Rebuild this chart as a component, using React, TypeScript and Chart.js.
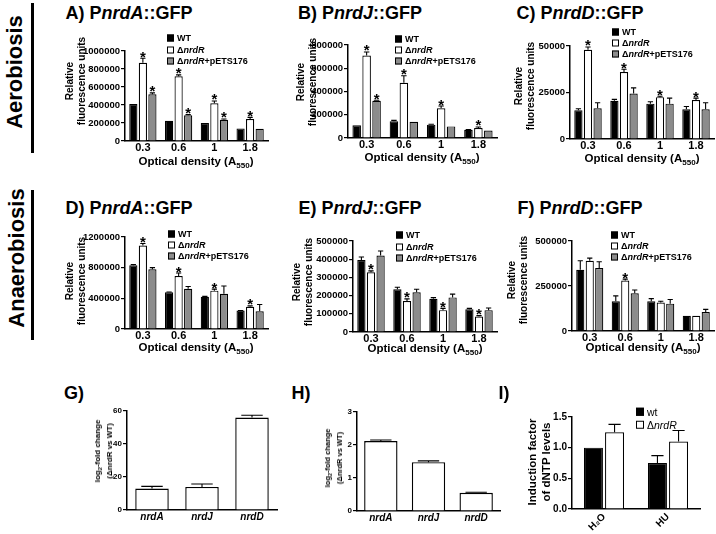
import React, { useEffect, useRef } from 'react';
import { Chart, registerables } from 'chart.js';

Chart.register(...registerables);

const FONT = "'Liberation Sans', Arial, Helvetica, sans-serif";

// ---------------- data ----------------
const odLabels = ['0.3', '0.6', '1', '1.8'];
const strainNames = ['WT', 'ΔnrdR', 'ΔnrdR+pETS176'];
const geneLabels = ['nrdA', 'nrdJ', 'nrdD'];
const treatLabels = ['H₂O', 'HU'];
const dntpNames = ['wt', 'ΔnrdR'];
const panelTitles = ['A) PnrdA::GFP', 'B) PnrdJ::GFP', 'C) PnrdD::GFP', 'D) PnrdA::GFP', 'E) PnrdJ::GFP', 'F) PnrdD::GFP', 'G)', 'H)', 'I)'];

// A) PnrdA::GFP aerobiosis
const aWT = [410000, 225000, 200000, 140000];
const aWTTop = [410000, 225000, 200000, 140000];
const aDel = [870000, 720000, 420000, 245000];
const aDelTop = [920000, 735000, 445000, 262000];
const aComp = [520000, 285000, 235000, 135000];
const aCompTop = [535000, 295000, 245000, 135000];
const aDelStar = [1, 1, 1, 1];
const aCompStar = [1, 1, 1, 0];
const aTicks = [0, 200000, 400000, 600000, 800000, 1000000];

// B) PnrdJ::GFP aerobiosis
const bWT = [110000, 145000, 115000, 70000];
const bWTTop = [110000, 152000, 118000, 72000];
const bDel = [710000, 475000, 255000, 85000];
const bDelTop = [740000, 535000, 275000, 95000];
const bComp = [320000, 140000, 100000, 65000];
const bCompTop = [325000, 140000, 100000, 65000];
const bDelStar = [1, 1, 1, 1];
const bCompStar = [1, 0, 0, 0];
const bTicks = [0, 200000, 400000, 600000, 800000];

// C) PnrdD::GFP aerobiosis
const cWT = [15500, 20500, 19000, 16000];
const cWTTop = [16300, 21300, 20000, 17500];
const cDel = [48000, 36000, 22500, 21000];
const cDelTop = [49500, 37500, 23000, 22000];
const cComp = [16500, 24500, 19000, 16000];
const cCompTop = [19500, 27500, 22000, 19500];
const cDelStar = [1, 1, 1, 1];
const cCompStar = [0, 0, 0, 0];
const cTicks = [0, 25000, 50000];

// D) PnrdA::GFP anaerobiosis
const dWT = [830000, 480000, 420000, 240000];
const dWTTop = [842000, 482000, 426000, 242000];
const dDel = [1090000, 690000, 500000, 290000];
const dDelTop = [1115000, 730000, 520000, 302000];
const dComp = [780000, 525000, 460000, 230000];
const dCompTop = [800000, 555000, 560000, 320000];
const dDelStar = [1, 1, 1, 1];
const dCompStar = [0, 0, 0, 0];
const dTicks = [0, 400000, 800000, 1200000];

// E) PnrdJ::GFP anaerobiosis
const eWT = [395000, 235000, 183000, 125000];
const eWTTop = [412000, 246000, 189000, 130000];
const eDel = [328000, 170000, 120000, 85000];
const eDelTop = [336000, 182000, 130000, 90000];
const eComp = [420000, 218000, 190000, 120000];
const eCompTop = [445000, 235000, 208000, 132000];
const eDelStar = [1, 1, 1, 1];
const eCompStar = [0, 0, 0, 0];
const eTicks = [0, 100000, 200000, 300000, 400000, 500000];

// F) PnrdD::GFP anaerobiosis
const fWT = [340000, 165000, 165000, 85000];
const fWTTop = [390000, 195000, 180000, 85000];
const fDel = [390000, 280000, 158000, 85000];
const fDelTop = [405000, 288000, 165000, 85000];
const fComp = [350000, 210000, 152000, 105000];
const fCompTop = [385000, 228000, 175000, 120000];
const fDelStar = [0, 1, 0, 0];
const fCompStar = [0, 0, 0, 0];
const fTicks = [0, 250000, 500000];

// G) log2 fold change (nrdA, nrdJ, nrdD)
const gVals = [13, 14, 56];
const gTop = [14.3, 15.8, 57.4];
const gTicks = [0, 20, 40, 60];

// H)
const hVals = [2.12, 1.48, 0.55];
const hTop = [2.15, 1.52, 0.57];
const hTicks = [0, 1, 2, 3];

// I) dNTP induction
const iWT = [1.0, 0.75];
const iWTTop = [1.0, 0.87];
const iDel = [1.25, 1.1];
const iDelTop = [1.38, 1.28];
const iTicks = [0, 0.5, 1.0, 1.5];

// ---------------- styles ----------------
const BLACK = '#000000';
const WHITE = '#ffffff';
const GRAY = '#8c8c8c';

function rich(text: string) {
  const parts = text.split(/(nrd[A-Z])/);
  return parts.map((p, i) =>
    /^nrd[A-Z]$/.test(p) ? <i key={i}>{p}</i> : <React.Fragment key={i}>{p}</React.Fragment>
  );
}

const errorBarPlugin = {
  id: 'errbars',
  afterDatasetsDraw(chart: any) {
    const ctx = chart.ctx;
    const ys = chart.scales.y;
    chart.data.datasets.forEach((ds: any, i: number) => {
      const meta = chart.getDatasetMeta(i);
      meta.data.forEach((bar: any, j: number) => {
        const x = bar.x;
        const yb = bar.y;
        const w = bar.width;
        let topPx = yb;
        const tv = ds.errTop ? ds.errTop[j] : null;
        if (tv != null && tv > ds.data[j]) {
          topPx = ys.getPixelForValue(tv);
          ctx.save();
          ctx.strokeStyle = '#000';
          ctx.lineWidth = 1.1;
          ctx.beginPath();
          ctx.moveTo(x, yb);
          ctx.lineTo(x, topPx);
          ctx.moveTo(x - w * 0.32, topPx);
          ctx.lineTo(x + w * 0.32, topPx);
          ctx.stroke();
          ctx.restore();
        }
        if (ds.stars && ds.stars[j]) {
          ctx.save();
          ctx.fillStyle = '#000';
          ctx.font = `bold 15px ${FONT}`;
          ctx.textAlign = 'center';
          ctx.textBaseline = 'alphabetic';
          ctx.fillText('*', x, topPx + 3.5);
          ctx.restore();
        }
      });
    });
  },
};

type DS = { data: number[]; top: number[]; stars?: number[]; color: string };
type PanelCfg = {
  L: number; R: number; T: number; B: number;
  yw: number; xh: number;
  labels: string[];
  yTicks: number[];
  yDec?: number;
  yTickSize: number;
  xTickSize: number;
  xItalic?: boolean;
  xRot?: number;
  xPad?: number;
  catPct: number;
  barPct: number;
  bw: number;
  datasets: DS[];
};

function BarPanel({ cfg }: { cfg: PanelCfg }) {
  const ref = useRef<HTMLCanvasElement | null>(null);
  const padT = 10, padR = 3, padB = 2;
  const w = cfg.R - cfg.L + cfg.yw + padR;
  const h = cfg.B - cfg.T + padT + cfg.xh + padB;
  useEffect(() => {
    const c = ref.current;
    if (!c) return;
    const yMax = cfg.yTicks[cfg.yTicks.length - 1];
    const chart = new Chart(c, {
      type: 'bar',
      data: {
        labels: cfg.labels,
        datasets: cfg.datasets.map((d) => ({
          data: d.data,
          errTop: d.top,
          stars: d.stars,
          backgroundColor: d.color,
          borderColor: '#000',
          borderWidth: cfg.bw,
          categoryPercentage: cfg.catPct,
          barPercentage: cfg.barPct,
        })) as any,
      },
      options: {
        responsive: false,
        animation: false,
        devicePixelRatio: 1,
        layout: { padding: { left: 0, top: padT, right: padR, bottom: padB } },
        plugins: { legend: { display: false }, tooltip: { enabled: false }, title: { display: false } },
        scales: {
          x: {
            type: 'category',
            grid: { display: false, drawTicks: false, tickLength: 0 },
            border: { display: true, color: '#000', width: 1.5 },
            ticks: {
              color: '#000',
              font: { family: FONT, size: cfg.xTickSize, weight: 'bold', style: cfg.xItalic ? 'italic' : 'normal' },
              padding: cfg.xPad ?? 0,
              autoSkip: false,
              maxRotation: cfg.xRot || 0,
              minRotation: cfg.xRot || 0,
            },
            afterFit: (s: any) => { s.height = cfg.xh; },
          },
          y: {
            type: 'linear',
            min: 0,
            max: yMax,
            grid: { display: true, drawOnChartArea: false, drawTicks: true, tickLength: 4, color: '#000', tickColor: '#000', tickWidth: 1.2, lineWidth: 1.2 },
            border: { display: true, color: '#000', width: 1.5 },
            ticks: {
              color: '#000',
              font: { family: FONT, size: cfg.yTickSize, weight: 'bold' },
              padding: 1,
              callback: (v: any) => (cfg.yDec ? Number(v).toFixed(cfg.yDec) : String(v)),
            },
            afterBuildTicks: (s: any) => { s.ticks = cfg.yTicks.map((v) => ({ value: v })); },
            afterFit: (s: any) => { s.width = cfg.yw; },
          },
        },
      } as any,
      plugins: [errorBarPlugin],
    });
    return () => chart.destroy();
  }, []);
  return (
    <canvas
      ref={ref}
      width={w}
      height={h}
      style={{ position: 'absolute', left: cfg.L - cfg.yw, top: cfg.T - padT, width: w, height: h }}
    />
  );
}

const Txt = ({ x, y, size, bold, rot, lh, children }: any) => (
  <div
    style={{
      position: 'absolute', left: x, top: y,
      transform: `translate(-50%, -50%)${rot ? ` rotate(${rot}deg)` : ''}`,
      fontFamily: FONT, fontSize: size, fontWeight: bold ? 'bold' : 'normal',
      whiteSpace: 'nowrap', lineHeight: lh ? `${lh}px` : 1, textAlign: 'center', color: '#000',
    }}
  >
    {children}
  </div>
);

const Legend = ({ x, ys, names, colors, size, box, bold }: any) => (
  <>
    {names.map((n: string, i: number) => (
      <div
        key={i}
        style={{
          position: 'absolute', left: x, top: ys[i], transform: 'translateY(-50%)',
          display: 'flex', alignItems: 'center', fontFamily: FONT, fontSize: size,
          fontWeight: bold ? 'bold' : 'normal', whiteSpace: 'nowrap', color: '#000', lineHeight: 1,
        }}
      >
        <span style={{ display: 'inline-block', width: box, height: box, background: colors[i], border: '1px solid #000', marginRight: 3, boxSizing: 'border-box' }} />
        <span>{rich(n)}</span>
      </div>
    ))}
  </>
);

const Sub = ({ children }: any) => (
  <span style={{ fontSize: '0.7em', verticalAlign: '-0.35em', lineHeight: 0 }}>{children}</span>
);

const strainColors = [BLACK, WHITE, GRAY];

function mk3(L: number, R: number, T: number, B: number, ticks: number[], tsize: number, s: number[][], tops: number[][], delStar: number[], compStar: number[]): PanelCfg {
  return {
    L, R, T, B, yw: 50, xh: 16, labels: odLabels, yTicks: ticks, yTickSize: tsize, xTickSize: 11,
    catPct: 0.8, barPct: 0.86, bw: 1.2,
    datasets: [
      { data: s[0], top: tops[0], color: BLACK },
      { data: s[1], top: tops[1], stars: delStar, color: WHITE },
      { data: s[2], top: tops[2], stars: compStar, color: GRAY },
    ],
  };
}

const cfgA = mk3(125, 268, 51, 141, aTicks, 9.5, [aWT, aDel, aComp], [aWTTop, aDelTop, aCompTop], aDelStar, aCompStar);
const cfgB = mk3(348, 497, 45, 138, bTicks, 9.5, [bWT, bDel, bComp], [bWTTop, bDelTop, bCompTop], bDelStar, bCompStar);
const cfgC = mk3(570, 714, 46, 139, cTicks, 9.5, [cWT, cDel, cComp], [cWTTop, cDelTop, cCompTop], cDelStar, cCompStar);
const cfgD = mk3(125, 268, 237, 329, dTicks, 9.5, [dWT, dDel, dComp], [dWTTop, dDelTop, dCompTop], dDelStar, dCompStar);
const cfgE = mk3(353, 497, 241, 332, eTicks, 9.5, [eWT, eDel, eComp], [eWTTop, eDelTop, eCompTop], eDelStar, eCompStar);
const cfgF = mk3(572, 714, 241, 331, fTicks, 9.5, [fWT, fDel, fComp], [fWTTop, fDelTop, fCompTop], fDelStar, fCompStar);

const cfgG: PanelCfg = {
  L: 127, R: 277, T: 411, B: 510, yw: 30, xh: 16, labels: geneLabels, yTicks: gTicks, yTickSize: 8, xTickSize: 10, xItalic: true, xPad: 1,
  catPct: 0.67, barPct: 1, bw: 1.4, datasets: [{ data: gVals, top: gTop, color: WHITE }],
};
const cfgH: PanelCfg = {
  L: 357, R: 500, T: 412, B: 511, yw: 30, xh: 16, labels: geneLabels, yTicks: hTicks, yTickSize: 8, xTickSize: 10, xItalic: true, xPad: 1,
  catPct: 0.7, barPct: 1, bw: 1.4, datasets: [{ data: hVals, top: hTop, color: WHITE }],
};
const cfgI: PanelCfg = {
  L: 572, R: 700, T: 417, B: 509, yw: 36, xh: 22, labels: treatLabels, yTicks: iTicks, yDec: 1, yTickSize: 10, xTickSize: 10, xRot: 45, xPad: 2,
  catPct: 0.66, barPct: 0.9, bw: 1.2,
  datasets: [
    { data: iWT, top: iWTTop, color: BLACK },
    { data: iDel, top: iDelTop, color: WHITE },
  ],
};

const titlePos = [
  [129, 13], [360, 13], [580, 13],
  [129, 208], [360, 208], [580, 208],
  [74, 393], [301, 393], [504, 393],
];

export default function App() {
  const rfu = <>Relative<br />fluorescence units</>;
  const od = <>Optical density (A<Sub>550</Sub>)</>;
  const lfc = <>log<Sub>2</Sub>-fold change<br />(ΔnrdR vs WT)</>;
  return (
    <div style={{ position: 'absolute', left: 0, top: 0, width: 716, height: 534, background: '#fff', overflow: 'hidden' }}>
      {[cfgA, cfgB, cfgC, cfgD, cfgE, cfgF, cfgG, cfgH, cfgI].map((c, i) => (
        <BarPanel key={i} cfg={c} />
      ))}

      {/* side labels */}
      <div style={{ position: 'absolute', left: 30.5, top: 3, width: 3.5, height: 150, background: '#000' }} />
      <div style={{ position: 'absolute', left: 30.5, top: 190, width: 3.5, height: 150, background: '#000' }} />
      <Txt x={15} y={72} size={22} bold rot={-90}>Aerobiosis</Txt>
      <Txt x={17} y={258} size={22} bold rot={-90}>Anaerobiosis</Txt>

      {/* panel titles */}
      {panelTitles.map((t, i) => (
        <Txt key={i} x={titlePos[i][0]} y={titlePos[i][1]} size={18} bold>{rich(t)}</Txt>
      ))}

      {/* y titles */}
      <Txt x={76} y={81} size={10} bold rot={-90} lh={12}>{rfu}</Txt>
      <Txt x={307} y={82} size={10} bold rot={-90} lh={12}>{rfu}</Txt>
      <Txt x={525} y={86} size={10} bold rot={-90} lh={12}>{rfu}</Txt>
      <Txt x={76} y={281} size={10} bold rot={-90} lh={12}>{rfu}</Txt>
      <Txt x={303} y={282} size={10} bold rot={-90} lh={12}>{rfu}</Txt>
      <Txt x={518} y={280} size={10} bold rot={-90} lh={12}>{rfu}</Txt>
      <Txt x={104} y={451} size={8} bold rot={-90} lh={12}>{lfc}</Txt>
      <Txt x={334} y={458} size={7.5} bold rot={-90} lh={12}>{lfc}</Txt>
      <Txt x={539} y={462} size={11.5} bold rot={-90} lh={14}>Induction factor<br />of dNTP levels</Txt>

      {/* x titles */}
      <Txt x={196} y={162} size={11.5} bold>{od}</Txt>
      <Txt x={422} y={158} size={11.5} bold>{od}</Txt>
      <Txt x={642} y={159} size={11.5} bold>{od}</Txt>
      <Txt x={196} y={348} size={11.5} bold>{od}</Txt>
      <Txt x={425} y={349} size={11.5} bold>{od}</Txt>
      <Txt x={643} y={348} size={11.5} bold>{od}</Txt>

      {/* legends */}
      <Legend x={167} ys={[38, 49.5, 61]} names={strainNames} colors={strainColors} size={9} box={7} bold />
      <Legend x={395} ys={[39, 50, 61]} names={strainNames} colors={strainColors} size={9} box={7} bold />
      <Legend x={612} ys={[32, 43, 54]} names={strainNames} colors={strainColors} size={9} box={7} bold />
      <Legend x={168} ys={[234, 245, 256]} names={strainNames} colors={strainColors} size={9} box={7} bold />
      <Legend x={396} ys={[235, 246.5, 258]} names={strainNames} colors={strainColors} size={9} box={7} bold />
      <Legend x={611} ys={[235, 246, 257]} names={strainNames} colors={strainColors} size={9} box={7} bold />
      <Legend x={636} ys={[412, 425]} names={dntpNames} colors={[BLACK, WHITE]} size={10.5} box={8} />
    </div>
  );
}
